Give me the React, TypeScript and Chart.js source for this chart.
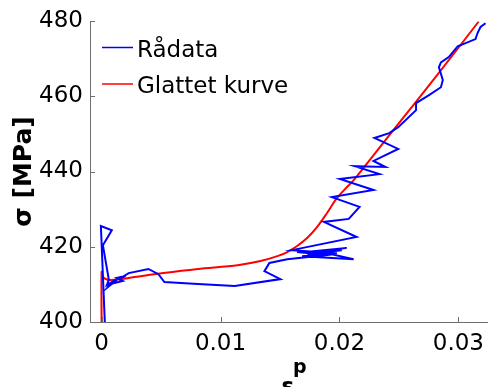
import React, { useEffect, useRef } from "react";
import { Chart, registerables } from "chart.js";

Chart.register(...registerables);

const xTicks = [0, 0.01, 0.02, 0.03];
const yTicks = [400, 420, 440, 460, 480];
const xTickLabels = ["0", "0.01", "0.02", "0.03"];

const rawX = [
  0.00028, -0.00006, 0.00086, 0.00011, 0.00061, 0.00044, 0.00086, 0.00053, 0.00128, 0.00078,
  0.00178, 0.00128, 0.00203, 0.00161, 0.00228, 0.00394, 0.00478, 0.00528, 0.0081, 0.01119,
  0.01503, 0.01369, 0.01411, 0.01561, 0.01894, 0.01644, 0.02019, 0.01728, 0.02061, 0.01811,
  0.02119, 0.01686, 0.01978, 0.016, 0.02144, 0.01869, 0.02078, 0.02169, 0.01936, 0.02286,
  0.02003, 0.02336, 0.02128, 0.02386, 0.02286, 0.02494, 0.02294, 0.02419, 0.02494, 0.02644,
  0.02644, 0.02753, 0.02853, 0.02869, 0.02836, 0.02853, 0.02919, 0.02994, 0.03144, 0.03161,
  0.03186, 0.03228,
];
const rawY = [
  399.2, 425.5, 424.4, 420.4, 411.2, 409.8, 410.6, 409.3, 411.2, 410.1,
  410.9, 411.7, 412.2, 411.7, 413.0, 414.1, 412.7, 410.6, 410.1, 409.6,
  411.4, 413.5, 415.7, 416.7, 417.8, 418.6, 419.1, 418.1, 419.7, 418.9,
  416.7, 417.5, 418.3, 419.1, 422.6, 426.6, 427.4, 430.6, 433.2, 435.1,
  438.0, 439.3, 441.4, 441.2, 442.8, 446.0, 448.9, 450.2, 451.8, 456.3,
  458.2, 460.3, 462.4, 464.3, 467.7, 469.0, 470.4, 473.3, 475.2, 476.8,
  478.4, 479.4,
];

const smoothX = [
  0, 0, 0.0001, 0.00044, 0.001, 0.00228, 0.00519, 0.0081, 0.01144, 0.01336,
  0.01478, 0.01561, 0.01644, 0.01728, 0.01811, 0.01894, 0.01978, 0.02061, 0.0212, 0.02478,
  0.02811, 0.03169,
];
const smoothY = [
  398, 413.3, 412.0, 411.3, 411.2, 411.7, 413.0, 414.1, 415.1, 416.2,
  417.5, 418.6, 420.2, 422.3, 425.2, 428.9, 432.9, 435.8, 437.7, 452.0,
  465.2, 479.8,
];

const seriesNames = ["Rådata", "Glattet kurve"];
const seriesColors = ["#0000ff", "#ff0000"];

const FONT = "'DejaVu Sans', sans-serif";
const AXIS_COLOR = "#6e6e6e";

export default function App() {
  const ref = useRef<HTMLCanvasElement | null>(null);

  useEffect(() => {
    if (!ref.current) return;

    const overlay = {
      id: "overlay",
      afterDraw(chart: any) {
        const ctx = chart.ctx;
        const { left, bottom } = chart.chartArea;
        const xs = chart.scales.x;
        const ys = chart.scales.y;
        ctx.save();
        // inward tick marks
        ctx.strokeStyle = AXIS_COLOR;
        ctx.lineWidth = 1;
        ctx.beginPath();
        xTicks.forEach((v) => {
          const px = Math.round(xs.getPixelForValue(v)) + 0.5;
          ctx.moveTo(px, bottom);
          ctx.lineTo(px, bottom - 5);
        });
        yTicks.forEach((v) => {
          const py = Math.round(ys.getPixelForValue(v)) + 0.5;
          ctx.moveTo(left, py);
          ctx.lineTo(left + 5, py);
        });
        ctx.stroke();

        // legend
        ctx.font = `23px ${FONT}`;
        ctx.textBaseline = "alphabetic";
        ctx.textAlign = "left";
        const rows = [47.5, 84];
        seriesNames.forEach((name, i) => {
          ctx.strokeStyle = seriesColors[i];
          ctx.lineWidth = 1.5;
          ctx.beginPath();
          ctx.moveTo(102, rows[i]);
          ctx.lineTo(133, rows[i]);
          ctx.stroke();
          ctx.fillStyle = "#000";
          ctx.fillText(name, 137, rows[i] + 9);
        });

        // x title: epsilon with superscript p
        ctx.fillStyle = "#000";
        ctx.font = `bold 24px ${FONT}`;
        ctx.fillText("ε", 281, 395);
        ctx.font = `bold 19px ${FONT}`;
        ctx.fillText("p", 293, 373);
        ctx.restore();
      },
    };

    const chart = new Chart(ref.current, {
      type: "scatter",
      data: {
        datasets: [
          {
            label: seriesNames[0],
            data: rawX.map((x, i) => ({ x, y: rawY[i] })),
            showLine: true,
            borderColor: seriesColors[0],
            borderWidth: 2,
            pointRadius: 0,
            tension: 0,
          },
          {
            label: seriesNames[1],
            data: smoothX.map((x, i) => ({ x, y: smoothY[i] })),
            showLine: true,
            borderColor: seriesColors[1],
            borderWidth: 2,
            pointRadius: 0,
            tension: 0.3,
          },
        ],
      },
      options: {
        animation: false,
        responsive: false,
        maintainAspectRatio: false,
        layout: { padding: { top: 21, right: 0, left: 0, bottom: 0 } },
        plugins: {
          legend: { display: false },
          tooltip: { enabled: false },
          title: { display: false },
        },
        scales: {
          x: {
            type: "linear",
            min: -0.000975,
            max: 0.03244,
            afterBuildTicks: (scale: any) => {
              scale.ticks = xTicks.map((v) => ({ value: v }));
            },
            afterFit: (scale: any) => {
              scale.height = 65;
            },
            grid: { display: true, drawOnChartArea: false, drawTicks: false },
            border: { display: true, color: AXIS_COLOR, width: 1 },
            ticks: {
              color: "#000",
              font: { family: FONT, size: 23 },
              padding: 8,
              maxRotation: 0,
              autoSkip: false,
              callback: (v: any) => {
                const i = xTicks.indexOf(Number(v));
                return i >= 0 ? xTickLabels[i] : "";
              },
            },
          },
          y: {
            type: "linear",
            min: 400,
            max: 480,
            afterBuildTicks: (scale: any) => {
              scale.ticks = yTicks.map((v) => ({ value: v }));
            },
            afterFit: (scale: any) => {
              scale.width = 90;
            },
            grid: { display: true, drawOnChartArea: false, drawTicks: false },
            border: { display: true, color: AXIS_COLOR, width: 1 },
            title: {
              display: true,
              text: "σ [MPa]",
              color: "#000",
              font: { family: FONT, size: 25, weight: "bold" },
              padding: { top: 9, bottom: 0 },
            },
            ticks: {
              color: "#000",
              font: { family: FONT, size: 23 },
              padding: 7,
              autoSkip: false,
              callback: (v: any) => String(v),
            },
          },
        },
      },
      plugins: [overlay],
    });

    return () => chart.destroy();
  }, []);

  return (
    <div style={{ position: "fixed", left: 0, top: 0, width: 492, height: 387, background: "#fff" }}>
      <canvas ref={ref} width={492} height={387} style={{ width: 492, height: 387 }} />
    </div>
  );
}
